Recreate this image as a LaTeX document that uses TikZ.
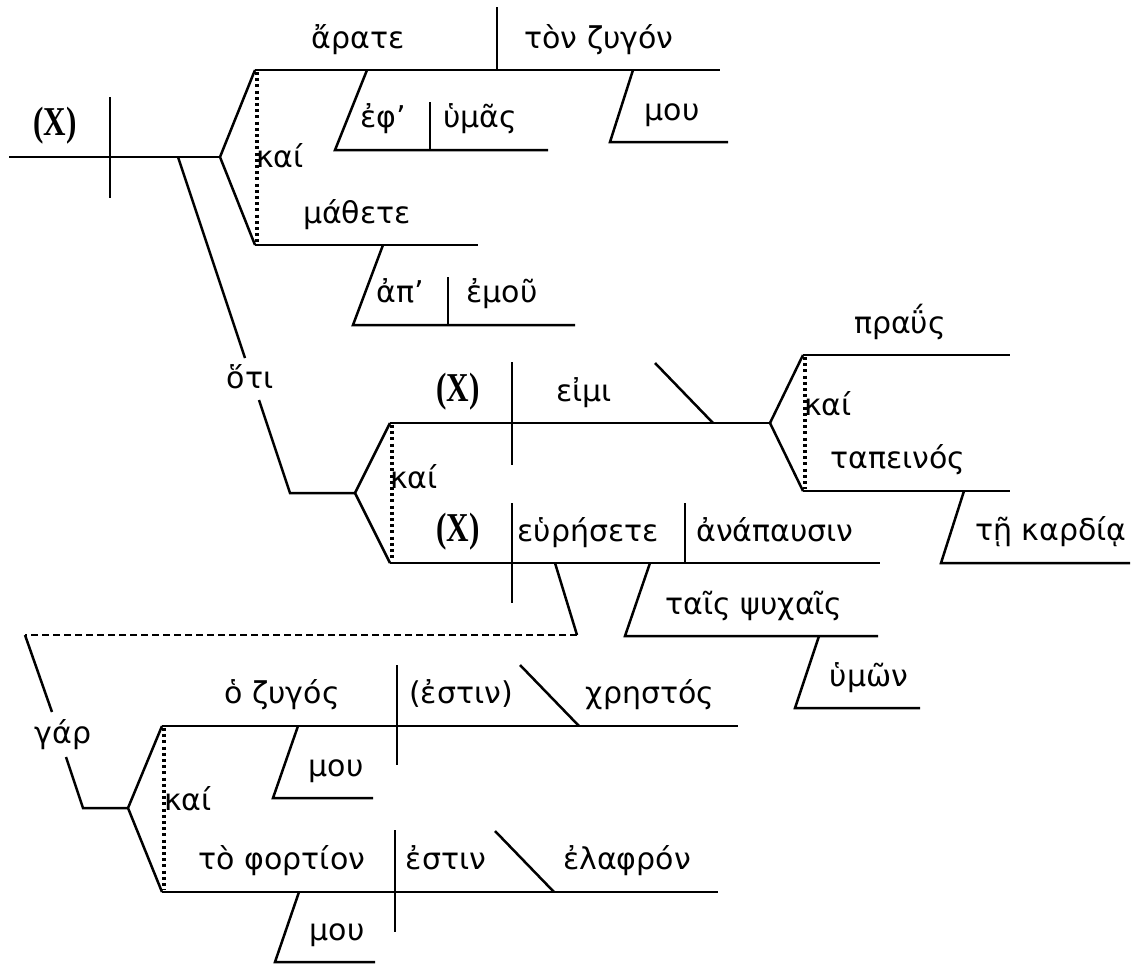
\documentclass[tikz,border=0pt]{standalone}
\usepackage{fontspec}
\setmainfont{DejaVu Sans}
\newfontfamily\xfont{Liberation Serif}
\tikzset{
 ln/.style={line width=2.5pt},
 dotln/.style={line width=3.2pt, dash pattern=on 3pt off 3.2pt},
 dashln/.style={line width=1.8pt, dash pattern=on 7pt off 4pt},
 gk/.style={anchor=base, inner sep=0pt, font=\fontsize{30}{34}\selectfont},
 xx/.style={anchor=base, inner sep=0pt, font=\xfont\bfseries\fontsize{41}{44}\selectfont, xscale=0.76},
}
\begin{document}
\begin{tikzpicture}[x=1pt,y=-1pt]
\useasboundingbox (0,0) rectangle (1134,964);
% ---------- first sentence ----------
\draw[ln] (9,157) -- (220,157);
\draw[ln] (110,97) -- (110,198);
\draw[ln] (255,70) -- (220,157) -- (255,245);
\draw[dotln] (257,72) -- (257,243);
\draw[ln] (255,70) -- (720,70);
\draw[ln] (497,7) -- (497,70);
\draw[ln] (367,70) -- (335,150) -- (548,150);
\draw[ln] (430,102) -- (430,150);
\draw[ln] (633,70) -- (610,142) -- (728,142);
\draw[ln] (255,245) -- (478,245);
\draw[ln] (383,245) -- (353,325) -- (575,325);
\draw[ln] (448,277) -- (448,325);
% ---------- hoti clause ----------
\draw[ln] (178,157) -- (245,358);
\draw[ln] (259,400) -- (290,493) -- (355,493);
\draw[ln] (390,423) -- (355,493) -- (390,563);
\draw[dotln] (392,425) -- (392,561);
\draw[ln] (390,423) -- (770,423);
\draw[ln] (512,362) -- (512,465);
\draw[ln] (655,363) -- (713,423);
\draw[ln] (803,355) -- (770,423) -- (803,491);
\draw[dotln] (805,357) -- (805,489);
\draw[ln] (803,355) -- (1010,355);
\draw[ln] (803,491) -- (1010,491);
\draw[ln] (964,491) -- (941,563) -- (1130,563);
\draw[ln] (390,563) -- (880,563);
\draw[ln] (512,503) -- (512,603);
\draw[ln] (685,503) -- (685,563);
\draw[ln] (650,563) -- (625,636) -- (878,636);
\draw[ln] (819,636) -- (795,708) -- (920,708);
% ---------- gar clause ----------
\draw[ln] (555,563) -- (577,635);
\draw[dashln] (577,635) -- (25,635);
\draw[ln] (25,635) -- (52,712);
\draw[ln] (66,757) -- (83,808) -- (128,808);
\draw[ln] (162,726) -- (128,808) -- (162,892);
\draw[dotln] (164,728) -- (164,890);
\draw[ln] (162,726) -- (738,726);
\draw[ln] (397,665) -- (397,765);
\draw[ln] (520,665) -- (579,726);
\draw[ln] (298,726) -- (273,798) -- (373,798);
\draw[ln] (162,892) -- (718,892);
\draw[ln] (395,830) -- (395,932);
\draw[ln] (495,831) -- (554,892);
\draw[ln] (299,892) -- (275,962) -- (375,962);
% ---------- texts ----------
\node[xx] (x1) at (55,135) {(X)};
\node[gk] (w1) at (358,48) {ἄρατε};
\node[gk] (w2) at (599,48) {τὸν ζυγόν};
\node[gk] (w3) at (383,127) {ἐφ’};
\node[gk] (w4) at (480,127) {ὑμᾶς};
\node[gk] (w5) at (672,120) {μου};
\node[gk] (w6) at (357,223) {μάθετε};
\node[gk] (w7) at (400,302) {ἀπ’};
\node[gk] (w8) at (502,302) {ἐμοῦ};
\node[gk] (k1) at (280,167) {καί};
\node[gk] (h1) at (250,388) {ὅτι};
\node[gk] (k2) at (414,488) {καί};
\node[xx] (x2) at (458,401) {(X)};
\node[gk] (w9) at (584,401) {εἰμι};
\node[gk] (w10) at (900,333) {πραΰς};
\node[gk] (k3) at (828,415) {καί};
\node[gk] (w11) at (898,468) {ταπεινός};
\node[gk] (w12) at (1051,540) {τῇ καρδίᾳ};
\node[xx] (x3) at (458,541) {(X)};
\node[gk] (w13) at (588,541) {εὑρήσετε};
\node[gk] (w14) at (775,541) {ἀνάπαυσιν};
\node[gk] (w15) at (754,614) {ταῖς ψυχαῖς};
\node[gk] (w16) at (869,686) {ὑμῶν};
\node[gk] (g1) at (63,743) {γάρ};
\node[gk] (k4) at (188,810) {καί};
\node[gk] (w17) at (282,703) {ὁ ζυγός};
\node[gk] (w18) at (461,703) {(ἐστιν)};
\node[gk] (w19) at (650,703) {χρηστός};
\node[gk] (w20) at (336,776) {μου};
\node[gk] (w21) at (282,869) {τὸ φορτίον};
\node[gk] (w22) at (446,869) {ἐστιν};
\node[gk] (w23) at (627,869) {ἐλαφρόν};
\node[gk] (w24) at (337,940) {μου};
\end{tikzpicture}
\end{document}
